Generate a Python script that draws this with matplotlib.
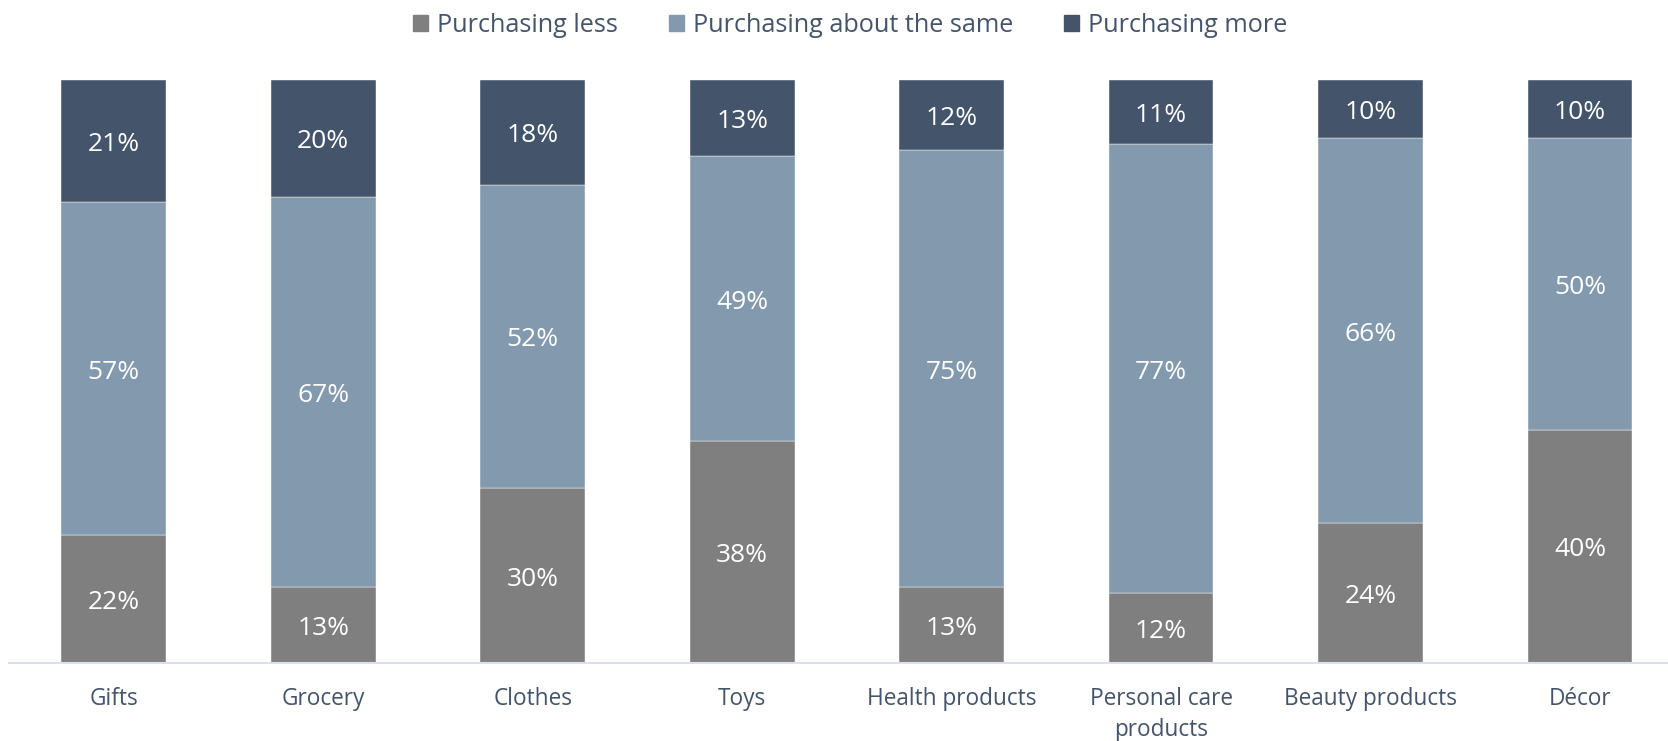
import matplotlib
matplotlib.use('Agg')
from matplotlib import pyplot as plt
from matplotlib.patches import Patch
from matplotlib.transforms import offset_copy
import numpy as np

categories = ['Gifts', 'Grocery', 'Clothes', 'Toys', 'Health products',
              'Personal care\nproducts', 'Beauty products', 'Décor']
less = [22, 13, 30, 38, 13, 12, 24, 40]
same = [57, 67, 52, 49, 75, 77, 66, 50]
more = [21, 20, 18, 13, 12, 11, 10, 10]
series_names = ['Purchasing less', 'Purchasing about the same', 'Purchasing more']
colors = ['#7F7F7F', '#8399AE', '#44546A']
text_color = '#44546A'

plt.rcParams['font.family'] = ['Open Sans', 'DejaVu Sans']

fig = plt.figure(figsize=(16.68, 7.41), dpi=100)
ax = fig.add_axes([9 / 1668, 1 - 663 / 741, 1 - 9 / 1668, (663 - 80) / 741])
label_tr = offset_copy(ax.transData, fig=fig, x=0, y=-2.5, units='points')

x = np.arange(len(categories))
bottom = np.zeros(len(categories))
for vals, name, col in zip([less, same, more], series_names, colors):
    vals = np.array(vals)
    ax.bar(x, vals, 0.5, bottom=bottom, color=col, label=name,
           edgecolor='white', linewidth=0.3)
    # percentage labels in the middle of each segment
    for xi, b, v in zip(x, bottom, vals):
        ax.text(xi, b + v / 2, '{}%'.format(v), ha='center', va='center',
                color='white', fontsize=19, transform=label_tr)
    bottom += vals

ax.set_xlim(-0.5, 7.42)
ax.set_ylim(0, 100)
ax.set_yticks([])
ax.set_xticks(x)
ax.set_xticklabels(categories, fontsize=16.3, color=text_color, linespacing=1.4)
ax.tick_params(axis='x', length=0, pad=17)
for side in ['top', 'right', 'left']:
    ax.spines[side].set_visible(False)
ax.spines['bottom'].set_color('#D9E1EA')
ax.spines['bottom'].set_linewidth(1.5)

handles = [Patch(color=c) for c in colors]
fig.legend(handles, series_names, loc='center', bbox_to_anchor=(0.5096, 1 - 25 / 741),
           ncol=3, frameon=False, fontsize=18.2, labelcolor=text_color,
           handlelength=0.6, handleheight=0.6, handletextpad=0.35, columnspacing=2.0)

fig.savefig('out.png', dpi=100)
